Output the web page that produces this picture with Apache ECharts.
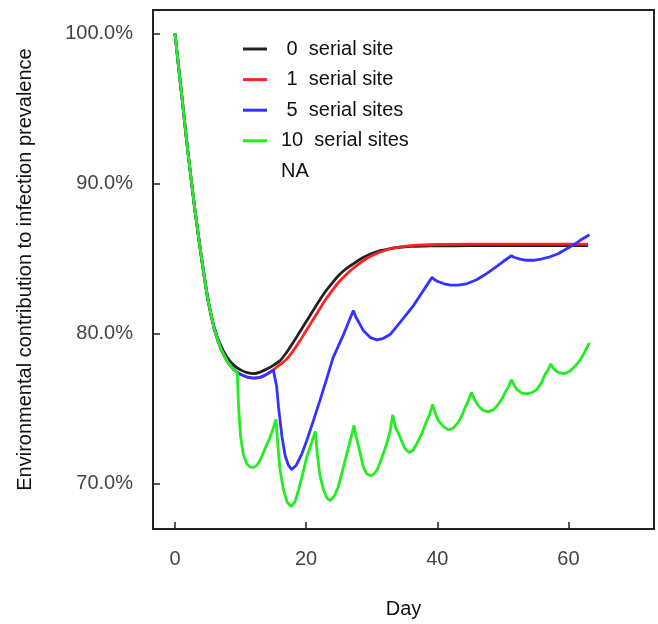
<!DOCTYPE html>
<html>
<head>
<meta charset="utf-8">
<script src="https://cdn.jsdelivr.net/npm/echarts@6.0.0/dist/echarts.min.js"></script>
<style>
html, body { margin: 0; padding: 0; background: #fff; }
#chart { width: 658px; height: 624px; }
</style>
</head>
<body>
<div id="chart"></div>
<script>
// tick values
var xTicks = [0, 20, 40, 60];
var yTicks = [70, 80, 90, 100];

// 0 serial site
var blackDays = [0, 1, 2, 3, 4, 5, 6, 7, 8, 9, 10, 11, 12, 13, 14, 15, 16, 17, 18, 19, 20, 21, 22, 23, 24, 25, 26, 27, 28, 29, 30, 31, 32, 33, 34, 35, 36, 38, 40, 45, 50, 55, 60, 63];
var blackPct = [100, 96.0, 92.0, 88.4, 85.2, 82.4, 80.4, 79.2, 78.4, 77.9, 77.6, 77.42, 77.35, 77.45, 77.65, 77.9, 78.2, 78.75, 79.4, 80.1, 80.8, 81.5, 82.2, 82.85, 83.4, 83.9, 84.3, 84.6, 84.9, 85.15, 85.35, 85.5, 85.6, 85.7, 85.75, 85.8, 85.83, 85.85, 85.86, 85.87, 85.87, 85.87, 85.87, 85.87];

// 1 serial site
var redDays = [0, 1, 2, 3, 4, 5, 6, 7, 8, 9, 10, 11, 12, 13, 14, 15, 16, 17, 18, 19, 20, 21, 22, 23, 24, 25, 26, 27, 28, 29, 30, 31, 32, 33, 34, 35, 36, 38, 40, 45, 50, 55, 60, 63];
var redPct = [100, 96.0, 92.0, 88.4, 85.2, 82.3, 80.3, 79.0, 78.15, 77.6, 77.3, 77.12, 77.05, 77.1, 77.3, 77.6, 77.95, 78.3, 78.85, 79.5, 80.2, 80.9, 81.6, 82.3, 82.9, 83.45, 83.9, 84.3, 84.65, 84.95, 85.2, 85.4, 85.55, 85.67, 85.76, 85.83, 85.88, 85.93, 85.95, 85.97, 85.97, 85.97, 85.97, 85.97];

// 5 serial sites
var blueDays = [0, 1, 2, 3, 4, 5, 6, 7, 8, 9, 10, 11, 12, 13, 14, 15, 15.3, 15.5, 15.8, 16.3, 16.8, 17.3, 17.8, 18.5, 19.3, 20.1, 21.1, 22.1, 23.1, 24.1, 25.7, 27.2, 27.6, 28.0, 28.75, 29.8, 30.8, 31.8, 32.8, 34.3, 36.4, 39.2, 39.6, 40.0, 40.9, 42.0, 43.2, 44.6, 46.0, 47.3, 48.6, 50.0, 51.3, 51.7, 52.0, 52.6, 53.6, 54.7, 56.0, 57.2, 58.5, 59.8, 60.8, 61.8, 63.2];
var bluePct = [100, 96.0, 92.0, 88.4, 85.2, 82.3, 80.3, 79.0, 78.15, 77.6, 77.3, 77.12, 77.05, 77.1, 77.3, 77.6, 77.7, 76.5, 75.1, 73.2, 71.9, 71.25, 70.96, 71.25, 71.95, 72.9, 74.2, 75.55, 76.95, 78.4, 79.95, 81.56, 81.1, 80.8, 80.2, 79.75, 79.6, 79.7, 79.95, 80.75, 81.9, 83.76, 83.6, 83.5, 83.35, 83.25, 83.25, 83.35, 83.6, 83.95, 84.35, 84.8, 85.2, 85.1, 85.05, 84.98, 84.9, 84.9, 85.0, 85.13, 85.35, 85.68, 85.93, 86.23, 86.6];

// 10 serial sites
var greenDays = [0, 1, 2, 3, 4, 5, 6, 7, 8, 9, 9.5, 9.7, 10.0, 10.4, 10.95, 11.5, 12.0, 12.5, 13.0, 13.6, 14.3, 14.9, 15.4,
  15.7, 16.0, 16.55, 17.1, 17.7, 18.3, 18.85, 19.5, 20.1, 20.8, 21.4,
  21.7, 22.1, 22.65, 23.2, 23.7, 24.3, 24.9, 25.5, 26.2, 26.8, 27.3,
  27.6, 28.0, 28.75, 29.2, 29.7, 30.2, 30.8, 31.5, 32.3, 32.8, 33.2,
  33.6, 34.35, 35.0, 35.7, 36.3, 36.9, 37.6, 38.2, 38.8, 39.3,
  39.7, 40.2, 41.0, 41.7, 42.5, 43.2, 43.8, 44.25, 44.8, 45.2,
  45.7, 46.3, 47.0, 47.8, 48.6, 49.3, 49.9, 50.35, 50.9, 51.3,
  51.7, 52.1, 52.9, 53.7, 54.5, 55.2, 55.9, 56.45, 56.9, 57.3,
  57.7, 58.2, 58.8, 59.5, 60.2, 60.8, 61.4, 62.0, 62.6, 63.2];
var greenPct = [100, 96.0, 92.0, 88.4, 85.2, 82.3, 80.3, 79.0, 78.15, 77.6, 77.4, 75.1, 73.2, 72.0, 71.35, 71.12, 71.1, 71.25, 71.6, 72.2, 72.9, 73.6, 74.3,
  72.5, 71.0, 69.6, 68.8, 68.5, 68.8, 69.6, 70.7, 71.8, 72.7, 73.5,
  72.0, 70.6, 69.6, 69.05, 68.9, 69.2, 69.8, 70.8, 72.0, 73.0, 73.9,
  73.2, 72.5, 71.1, 70.7, 70.55, 70.6, 70.9, 71.7, 72.7, 73.5, 74.6,
  73.8, 73.1, 72.4, 72.1, 72.25, 72.7, 73.3, 74.0, 74.6, 75.3,
  74.7, 74.2, 73.8, 73.6, 73.75, 74.1, 74.6, 75.1, 75.6, 76.1,
  75.6, 75.2, 74.9, 74.8, 74.95, 75.3, 75.7, 76.1, 76.5, 76.95,
  76.6, 76.3, 76.05, 76.0, 76.1, 76.3, 76.75, 77.3, 77.6, 78.0,
  77.7, 77.5, 77.38, 77.35, 77.5, 77.75, 78.05, 78.4, 78.9, 79.4];

var seriesNames = [' 0  serial site', ' 1  serial site', ' 5  serial sites', '10  serial sites', 'NA'];
var seriesColors = ['#222222', '#ff2222', '#3333ff', '#22ee22', 'rgba(0,0,0,0)'];

function zip(xs, ys) {
    var out = [];
    for (var i = 0; i < xs.length; i++) {
        out.push([xs[i], ys[i]]);
    }
    return out;
}

function makeLine(idx, data, smooth) {
    return {
        name: seriesNames[idx],
        type: 'line',
        data: data,
        smooth: smooth,
        showSymbol: false,
        symbol: 'none',
        color: seriesColors[idx],
        lineStyle: { width: 2.8, color: seriesColors[idx] },
        z: 2 + idx
    };
}

var chart = echarts.init(document.getElementById('chart'), null, { renderer: 'canvas' });

var option = {
    animation: false,
    backgroundColor: '#ffffff',
    grid: {
        left: 153,
        right: 4,
        top: 10,
        bottom: 91,
        show: true,
        borderColor: '#222',
        borderWidth: 2,
        containLabel: false
    },
    legend: {
        orient: 'vertical',
        left: 243,
        top: 39,
        padding: 0,
        icon: 'rect',
        itemWidth: 24,
        itemHeight: 3,
        itemGap: 10.6,
        selectedMode: false,
        textStyle: {
            fontFamily: 'Liberation Sans, Arial, sans-serif',
            fontSize: 20,
            lineHeight: 20,
            color: '#111',
            padding: [0, 0, 0, 9]
        },
        data: seriesNames
    },
    xAxis: {
        type: 'value',
        min: -3.35,
        max: 73.05,
        name: 'Day',
        nameLocation: 'middle',
        nameGap: 70,
        nameTextStyle: { fontFamily: 'Liberation Sans, Arial, sans-serif', fontSize: 20, color: '#111' },
        splitLine: { show: false },
        axisLine: { show: true, onZero: false, lineStyle: { color: '#222', width: 2 } },
        axisTick: { show: true, inside: true, length: 7, customValues: xTicks, lineStyle: { color: '#222', width: 1.5 } },
        axisLabel: {
            customValues: xTicks,
            margin: 20,
            fontFamily: 'Liberation Sans, Arial, sans-serif',
            fontSize: 20,
            color: '#444'
        }
    },
    yAxis: {
        type: 'value',
        min: 67.0,
        max: 101.57,
        name: 'Environmental contribution to infection prevalence',
        nameLocation: 'middle',
        nameRotate: 90,
        nameGap: 118,
        nameTextStyle: { fontFamily: 'Liberation Sans, Arial, sans-serif', fontSize: 20, color: '#111' },
        splitLine: { show: false },
        axisLine: { show: true, onZero: false, lineStyle: { color: '#222', width: 2 } },
        axisTick: { show: true, inside: true, length: 7, customValues: yTicks, lineStyle: { color: '#222', width: 1.5 } },
        axisLabel: {
            customValues: yTicks,
            margin: 20,
            fontFamily: 'Liberation Sans, Arial, sans-serif',
            fontSize: 20,
            color: '#444',
            formatter: function (v) { return v.toFixed(1) + '%'; }
        }
    },
    series: [
        makeLine(0, zip(blackDays, blackPct), 0.3),
        makeLine(1, zip(redDays, redPct), 0.3),
        makeLine(2, zip(blueDays, bluePct), false),
        makeLine(3, zip(greenDays, greenPct), false),
        makeLine(4, [], false)
    ]
};

chart.setOption(option);
</script>
</body>
</html>
